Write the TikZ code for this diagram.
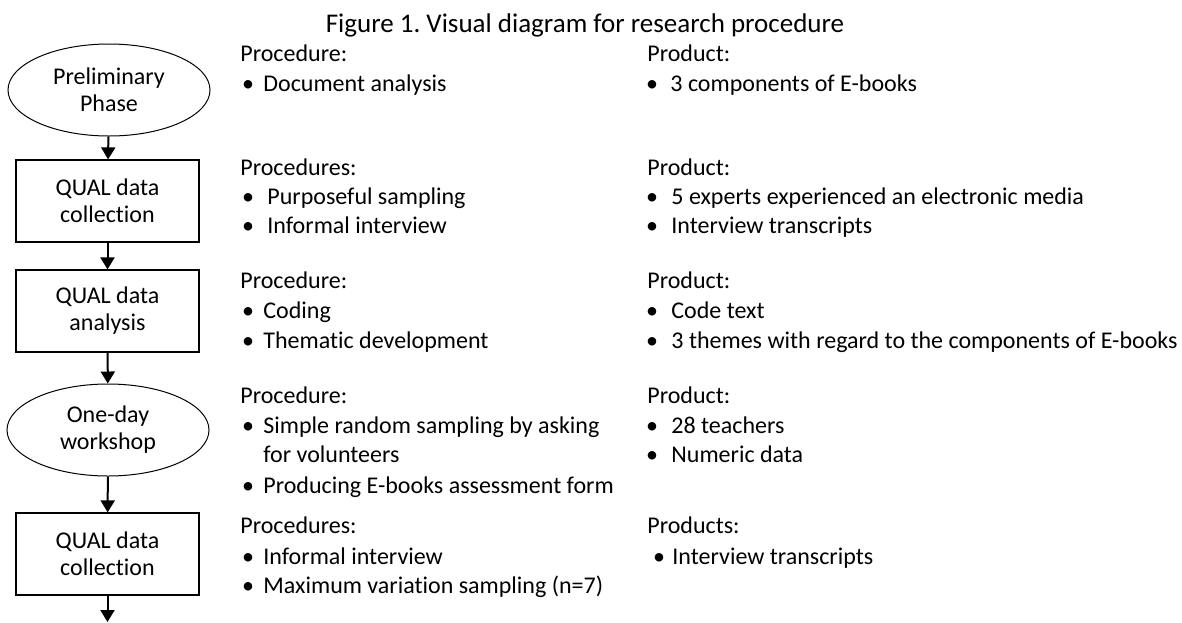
\documentclass[tikz,border=0pt]{standalone}
\usepackage{fontspec}
\setmainfont{Carlito}[Ligatures=NoCommon]
\usetikzlibrary{shapes, arrows.meta}
\tikzset{>={Triangle[length=6pt, width=7pt]}}
\frenchspacing

\begin{document}
\begin{tikzpicture}[x=0.5pt, y=-0.5pt, font=\fontsize{12}{15}\selectfont,
  phase/.style={draw, ellipse, line width=0.5pt, minimum width=101pt, minimum height=46pt, align=center, inner sep=0pt, font=\fontsize{12}{13.5}\selectfont},
  stage/.style={draw, rectangle, line width=0.6pt, minimum width=91.5pt, minimum height=41pt, align=center, font=\fontsize{12}{13.5}\selectfont},
  txt/.style={anchor=base west, inner sep=0pt},
  flow/.style={->, line width=1pt}]
\useasboundingbox (0,0) rectangle (1182,622);

\node[anchor = base, inner sep=0pt, font=\fontsize{13.5}{16}\selectfont] (title) at (585,32) {Figure 1. Visual diagram for research procedure};

% left column: the phases
\node[phase] (s1) at (109,90) {Preliminary\\Phase};
\node[stage] (s2) at (107.5,201) {QUAL data\\collection};
\node[stage] (s3) at (107.5,311) {QUAL data\\analysis};
\node[phase] (s4) at (108,430) {One-day\\workshop};
\node[stage] (s5) at (107.5,554) {QUAL data\\collection};
\coordinate (end) at (107.5,622);

\draw[flow] (s1) -- (s2);
\draw[flow] (s2) -- (s3);
\draw[flow] (s3) -- (s4);
\draw[flow] (s4) -- (s5);
\draw[flow] (s5) -- (end);

% procedures
\node[txt] (p1) at (240,61) {Procedure:};
\node[txt] (p2) at (240,175) {Procedures:};
\node[txt] (p3) at (240,288) {Procedure:};
\node[txt] (p4) at (240,403) {Procedure:};
\node[txt] (p5) at (240,533) {Procedures:};
\foreach \n/\bx/\x/\y/\t in {p1a/248/263/91/Document analysis,
    p2a/248/267/204/Purposeful sampling, p2b/248/267/233/Informal interview,
    p3a/248/263/318/Coding, p3b/248/263/348/Thematic development,
    p4a/248/263/433/Simple random sampling by asking, p4c/248/263/493/Producing E-books assessment form,
    p5a/248/263/564/Informal interview, p5b/248/263/593/Maximum variation sampling (n=7)}{
  \node[txt] (\n) at (\x,\y) {\t};
  \node[anchor=base, inner sep=0pt] (\n dot) at (\bx,\y) {•};
}
\node[txt] (p4b) at (263,462) {for volunteers};

% products
\node[txt] (q1) at (647,61) {Product:};
\node[txt] (q2) at (647,175) {Product:};
\node[txt] (q3) at (647,288) {Product:};
\node[txt] (q4) at (647,403) {Product:};
\node[txt] (q5) at (647,533) {Products:};
\foreach \n/\bx/\x/\y/\t in {q1a/652/670/91/3 components of E-books,
    q2a/652/671/204/5 experts experienced an electronic media, q2b/652/671/233/Interview transcripts,
    q3a/652/671/318/Code text, q3b/652/671/348/3 themes with regard to the components of E-books,
    q4a/652/671/433/28 teachers, q4b/652/671/462/Numeric data,
    q5a/659/672/564/Interview transcripts}{
  \node[txt] (\n) at (\x,\y) {\t};
  \node[anchor=base, inner sep=0pt] (\n dot) at (\bx,\y) {•};
}
\end{tikzpicture}
\end{document}
